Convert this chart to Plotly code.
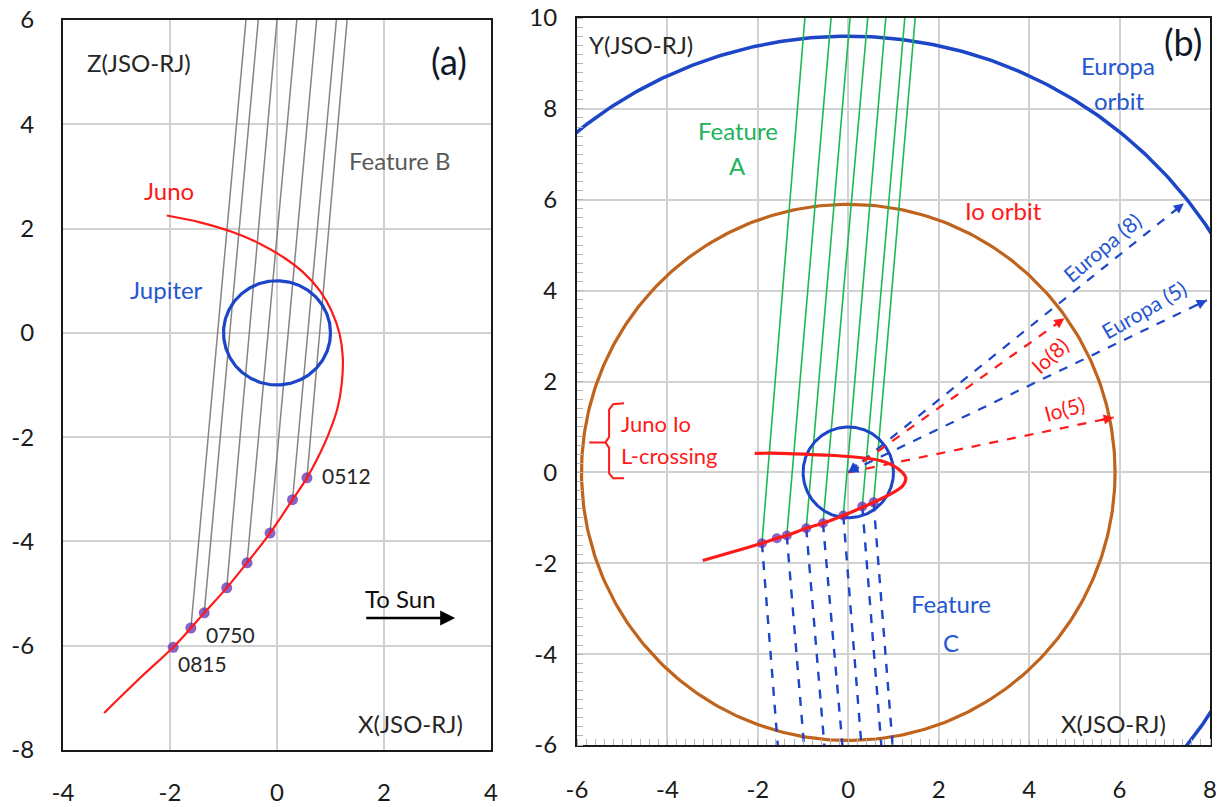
import numpy as np
import plotly.graph_objects as go

# ---------------- data: panel (a) X-Z plane ----------------
a_juno_x = [-2.06, -1.44, -0.82, -0.32, 0.12, 0.49, 0.80, 1.02, 1.17, 1.23, 1.21, 1.13, 0.96, 0.76,
            0.56, 0.29, -0.13, -0.56, -0.94, -1.36, -1.61, -1.94, -2.56, -3.23]
a_juno_y = [2.25, 2.12, 1.93, 1.71, 1.45, 1.16, 0.81, 0.42, -0.02, -0.47, -0.98, -1.45, -1.95, -2.40,
            -2.78, -3.20, -3.84, -4.41, -4.89, -5.37, -5.66, -6.03, -6.62, -7.29]
a_dot_x = [0.56, 0.29, -0.13, -0.56, -0.94, -1.36, -1.61, -1.94]
a_dot_y = [-2.78, -3.20, -3.84, -4.41, -4.89, -5.37, -5.66, -6.03]
featB_dot_idx = [0, 1, 2, 3, 4, 5, 6]
featB_top_x = [1.31, 1.11, 0.74, 0.37, 0.00, -0.35, -0.58]
a_top_y = 6.0
jupiter_r = 1.0
a_time_labels = ["0512", "0750", "0815"]
a_xticks = [-4, -2, 0, 2, 4]
a_xtick_text = ["-4", "-2", "0", "2", "4"]
a_yticks = [-8, -6, -4, -2, 0, 2, 4, 6]
a_ytick_text = ["-8", "-6", "-4", "-2", "0", "2", "4", "6"]

# ---------------- data: panel (b) X-Y plane ----------------
b_juno_x = [-2.07, -1.5, -0.5, 0.0, 0.7, 1.1, 1.27, 1.2, 1.0, 0.56, 0.31, -0.11, -0.56, -0.93,
            -1.36, -1.58, -1.91, -3.22]
b_juno_y = [0.42, 0.42, 0.38, 0.35, 0.26, 0.08, -0.12, -0.30, -0.44, -0.66, -0.77, -0.95, -1.12,
            -1.23, -1.39, -1.45, -1.56, -1.94]
b_dot_x = [-1.91, -1.58, -1.36, -0.93, -0.56, -0.11, 0.31, 0.56]
b_dot_y = [-1.56, -1.45, -1.39, -1.23, -1.12, -0.95, -0.75, -0.66]
feat_dot_idx = [0, 2, 3, 4, 5, 6, 7]
featA_top_x = [-0.96, -0.38, 0.04, 0.43, 0.83, 1.25, 1.48]
featC_bot_x = [-1.56, -0.98, -0.53, -0.13, 0.29, 0.73, 0.98]
b_top_y = 10.0
b_bot_y = -6.0
io_orbit_r = 5.9
europa_orbit_r = 9.6
b_xticks = [-6, -4, -2, 0, 2, 4, 6, 8]
b_xtick_text = ["-6", "-4", "-2", "0", "2", "4", "6", "8"]
b_yticks = [-6, -4, -2, 0, 2, 4, 6, 8, 10]
b_ytick_text = ["-6", "-4", "-2", "0", "2", "4", "6", "8", "10"]

arrow_names = ["Europa (8)", "Europa (5)", "Io(8)", "Io(5)"]
arrow_end_x = [7.42, 7.93, 4.78, 5.87]
arrow_end_y = [5.92, 3.79, 3.39, 1.21]
arrow_is_europa = [True, True, False, False]

bracket_x = [-4.96, -5.20, -5.29, -5.29, -5.37, -5.73, -5.37, -5.29, -5.29, -5.20, -4.96]
bracket_y = [1.52, 1.50, 1.38, 0.78, 0.66, 0.66, 0.66, 0.54, -0.02, -0.13, -0.13]

# ---------------- styles ----------------
FONT = "Lato"
BLUE = "#1c45c8"
BLUE_T = "#2457d0"
RED = "#ff1a1a"
GREEN = "#1db954"
GREEN_T = "#22b35a"
BROWN = "#c0631c"
GRAY = "#858585"
PURPLE = "rgba(100,45,175,0.75)"
GRID = "#d2d2d2"
LBL = 24


def circle(r, n=361):
    t = np.linspace(0, 2 * np.pi, n)
    return r * np.cos(t), r * np.sin(t)


def seg_lines(x0s, y0s, x1s, y1s):
    xs, ys = [], []
    for a, b, c, d in zip(x0s, y0s, x1s, y1s):
        xs += [a, c, None]
        ys += [b, d, None]
    return xs, ys


fig = go.Figure()

# ---- panel (a) ----
bx, by = seg_lines([a_dot_x[i] for i in featB_dot_idx], [a_dot_y[i] for i in featB_dot_idx],
                   featB_top_x, [a_top_y] * len(featB_top_x))
fig.add_trace(go.Scatter(x=bx, y=by, mode="lines", line=dict(color=GRAY, width=1.5),
                         xaxis="x", yaxis="y", hoverinfo="skip"))
cx, cy = circle(jupiter_r)
fig.add_trace(go.Scatter(x=cx, y=cy, mode="lines", line=dict(color=BLUE, width=3.2),
                         xaxis="x", yaxis="y"))
fig.add_trace(go.Scatter(x=a_dot_x, y=a_dot_y, mode="markers",
                         marker=dict(color=PURPLE, size=11, line=dict(width=0)),
                         xaxis="x", yaxis="y"))
fig.add_trace(go.Scatter(x=a_juno_x, y=a_juno_y, mode="lines",
                         line=dict(color=RED, width=2.2, shape="spline", smoothing=1.0),
                         xaxis="x", yaxis="y"))

# ---- panel (b) ----
ix, iy = circle(io_orbit_r)
fig.add_trace(go.Scatter(x=ix, y=iy, mode="lines", line=dict(color=BROWN, width=3.2),
                         xaxis="x2", yaxis="y2"))
ex, ey = circle(europa_orbit_r, 721)
fig.add_trace(go.Scatter(x=ex, y=ey, mode="lines", line=dict(color=BLUE, width=3.5),
                         xaxis="x2", yaxis="y2"))
gx, gy = seg_lines([b_dot_x[i] for i in feat_dot_idx], [b_dot_y[i] for i in feat_dot_idx],
                   featA_top_x, [b_top_y] * len(featA_top_x))
fig.add_trace(go.Scatter(x=gx, y=gy, mode="lines", line=dict(color=GREEN, width=1.6),
                         xaxis="x2", yaxis="y2"))
jx, jy = circle(jupiter_r)
fig.add_trace(go.Scatter(x=jx, y=jy, mode="lines", line=dict(color=BLUE, width=3.0),
                         xaxis="x2", yaxis="y2"))
dx_, dy_ = seg_lines([b_dot_x[i] for i in feat_dot_idx], [b_dot_y[i] for i in feat_dot_idx],
                     featC_bot_x, [b_bot_y] * len(featC_bot_x))
fig.add_trace(go.Scatter(x=dx_, y=dy_, mode="lines", line=dict(color=BLUE, width=2.4, dash="dash"),
                         xaxis="x2", yaxis="y2"))
for nm, x1, y1, eu in zip(arrow_names, arrow_end_x, arrow_end_y, arrow_is_europa):
    col = BLUE if eu else RED
    fig.add_trace(go.Scatter(x=[0, x1], y=[0, y1], mode="lines",
                             line=dict(color=col, width=2.2, dash="dash"),
                             xaxis="x2", yaxis="y2"))
fig.add_trace(go.Scatter(x=b_dot_x, y=b_dot_y, mode="markers",
                         marker=dict(color=PURPLE, size=10, line=dict(width=0)),
                         xaxis="x2", yaxis="y2"))
fig.add_trace(go.Scatter(x=b_juno_x, y=b_juno_y, mode="lines",
                         line=dict(color=RED, width=3.2, shape="spline", smoothing=0.8),
                         xaxis="x2", yaxis="y2"))
fig.add_trace(go.Scatter(x=bracket_x, y=bracket_y, mode="lines",
                         line=dict(color=RED, width=2.0),
                         xaxis="x2", yaxis="y2"))

ann = []


def txt(x, y, s, color, size=LBL, xr="x", yr="y", angle=0, xanchor="center"):
    ann.append(dict(x=x, y=y, xref=xr, yref=yr, text=s, showarrow=False,
                    font=dict(family=FONT, size=size, color=color), textangle=angle,
                    xanchor=xanchor, yanchor="middle"))


# panel (a) labels
txt(-2.58, 5.18, "Z(JSO-RJ)", "#262626")
txt(3.21, 5.22, "(a)", "#101828", 36)
txt(2.30, 3.30, "Feature B", "#5a5a5a")
txt(-2.02, 2.73, "Juno", RED)
txt(-2.06, 0.84, "Jupiter", BLUE_T)
txt(1.29, -2.74, a_time_labels[0], "#262626", 21)
txt(-0.86, -5.78, a_time_labels[1], "#262626", 21)
txt(-1.40, -6.35, a_time_labels[2], "#262626", 21)
txt(2.30, -5.09, "To Sun", "#111111")
txt(2.49, -7.49, "X(JSO-RJ)", "#262626")
ann.append(dict(x=3.33, y=-5.47, ax=1.64, ay=-5.47, xref="x", yref="y", axref="x", ayref="y",
                text="", showarrow=True, arrowhead=2, arrowsize=1.2, arrowwidth=2.5,
                arrowcolor="#000000", standoff=0))

# panel (b) labels
txt(-4.58, 9.41, "Y(JSO-RJ)", "#262626", LBL, "x2", "y2")
txt(7.40, 9.47, "(b)", "#101828", 36, "x2", "y2")
txt(5.96, 8.96, "Europa", BLUE_T, LBL, "x2", "y2")
txt(6.0, 8.18, "orbit", BLUE_T, LBL, "x2", "y2")
txt(-2.44, 7.52, "Feature", GREEN_T, LBL, "x2", "y2")
txt(-2.44, 6.75, "A", GREEN_T, LBL, "x2", "y2")
txt(3.44, 5.77, "Io orbit", RED, LBL, "x2", "y2")
txt(5.60, 4.96, arrow_names[0], BLUE_T, 21, "x2", "y2", -40)
txt(6.53, 3.59, arrow_names[1], BLUE_T, 21, "x2", "y2", -30)
txt(4.44, 2.58, arrow_names[2], RED, 21, "x2", "y2", -42)
txt(4.78, 1.41, arrow_names[3], RED, 21, "x2", "y2", -15)
txt(-5.07, 1.08, "Juno Io", RED, 22, "x2", "y2", xanchor="left")
txt(-5.07, 0.37, "L-crossing", RED, 22, "x2", "y2", xanchor="left")
txt(2.27, -2.88, "Feature", BLUE_T, LBL, "x2", "y2")
txt(2.27, -3.74, "C", BLUE_T, LBL, "x2", "y2")
txt(5.87, -5.53, "X(JSO-RJ)", "#262626", LBL, "x2", "y2")

for x1, y1, eu in zip(arrow_end_x, arrow_end_y, arrow_is_europa):
    col = BLUE if eu else RED
    L = (x1 ** 2 + y1 ** 2) ** 0.5
    ux, uy = x1 / L, y1 / L
    ann.append(dict(x=x1, y=y1, ax=x1 - 0.3 * ux, ay=y1 - 0.3 * uy, xref="x2", yref="y2",
                    axref="x2", ayref="y2", text="", showarrow=True, arrowhead=2,
                    arrowsize=1.0, arrowwidth=2, arrowcolor=col, standoff=0))
    if eu:
        ann.append(dict(x=0, y=0, ax=0.3 * ux, ay=0.3 * uy, xref="x2", yref="y2",
                        axref="x2", ayref="y2", text="", showarrow=True, arrowhead=2,
                        arrowsize=1.0, arrowwidth=2, arrowcolor=col, standoff=0))

W, H = 1225, 807
tickfont = dict(family=FONT, size=24, color="#1a1a1a")
common = dict(showgrid=True, gridcolor=GRID, gridwidth=1.5, zeroline=False, showline=True,
              linecolor="#1a1a1a", linewidth=2, mirror=True, ticks="", tickfont=tickfont,
              automargin=False, tickmode="array")

fig.update_layout(
    width=W, height=H, margin=dict(l=0, r=0, t=0, b=0), showlegend=False,
    plot_bgcolor="white", paper_bgcolor="white",
    xaxis=dict(domain=[63 / W, 491 / W], range=[-4, 4], anchor="y", ticklabelstandoff=20,
               tickvals=a_xticks, ticktext=a_xtick_text, **common),
    yaxis=dict(domain=[1 - 750 / H, 1 - 20 / H], range=[-8, 6], anchor="x", ticklabelstandoff=22,
               tickvals=a_yticks, ticktext=a_ytick_text, **common),
    xaxis2=dict(domain=[577 / W, 1210 / W], range=[-6, 8], anchor="y2", ticklabelstandoff=22,
                tickvals=b_xticks, ticktext=b_xtick_text,
                minor=dict(ticks="inside", dtick=0.2, ticklen=6, tickcolor="#b5b5b5", tickwidth=1,
                           showgrid=False), **common),
    yaxis2=dict(domain=[1 - 745 / H, 1 - 18 / H], range=[-6, 10], anchor="x2", ticklabelstandoff=13,
                tickvals=b_yticks, ticktext=b_ytick_text,
                minor=dict(ticks="inside", dtick=0.2, ticklen=6, tickcolor="#b5b5b5", tickwidth=1,
                           showgrid=False), **common),
    annotations=ann,
)

fig.write_html("out.html")
